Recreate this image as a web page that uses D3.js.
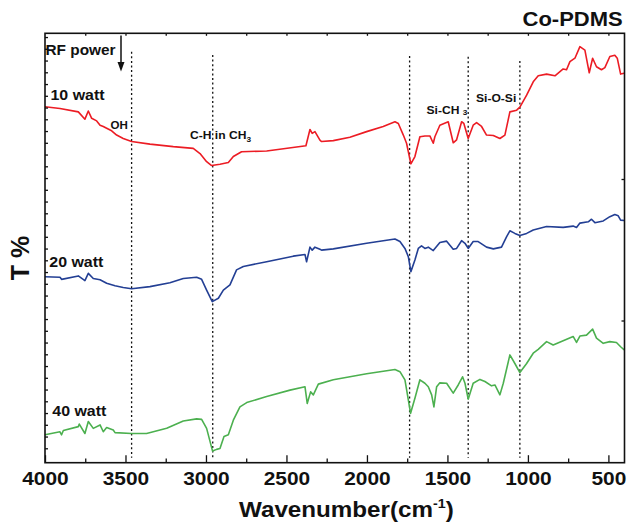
<!DOCTYPE html>
<html>
<head>
<meta charset="utf-8">
<script src="https://cdn.jsdelivr.net/npm/d3@7"></script>
<style>
  body { margin: 0; background: #fff; }
  svg text { font-family: "Liberation Sans", Arial, Helvetica, sans-serif; font-weight: bold; fill: #111; }
</style>
</head>
<body>
<div id="chart"></div>
<script>
// spectra: [wavenumber cm-1, T (offset, a.u.)]
const watt10 = [[4000,82.9],[3907,82.5],[3793,81.7],[3752,80.0],[3731,81.9],[3710,80.2],[3679,79.6],[3658,78.6],[3638,78.3],[3617,77.9],[3586,77.3],[3555,76.3],[3514,75.5],[3462,74.8],[3348,74.2],[3203,73.6],[3079,73.2],[3037,72.0],[2996,70.1],[2965,69.2],[2913,69.5],[2861,69.9],[2830,71.3],[2779,72.4],[2623,72.6],[2379,73.8],[2354,77.6],[2340,76.7],[2323,77.1],[2292,75.1],[2282,74.8],[2209,75.0],[2106,75.8],[2002,77.1],[1899,78.3],[1826,79.4],[1805,79.0],[1774,76.3],[1754,74.4],[1727,69.6],[1702,71.3],[1671,75.9],[1640,76.1],[1609,76.1],[1588,74.4],[1578,75.9],[1547,78.6],[1495,79.4],[1464,74.5],[1443,75.2],[1412,79.4],[1398,79.0],[1371,75.5],[1340,78.6],[1319,79.2],[1288,78.3],[1257,76.3],[1215,76.2],[1174,75.5],[1143,76.3],[1112,81.7],[1070,82.1],[1050,82.8],[1008,85.6],[967,88.7],[936,90.1],[884,90.5],[832,90.1],[781,91.7],[760,91.5],[739,93.4],[708,94.2],[677,96.9],[646,96.1],[619,90.8],[598,94.2],[574,92.2],[543,91.5],[522,92.0],[491,94.6],[460,94.9],[445,94.2],[424,90.5],[402,90.7]];

const watt20 = [[4000,43.3],[3907,43.2],[3897,42.7],[3793,43.5],[3752,42.4],[3731,44.1],[3700,42.9],[3658,42.6],[3617,41.8],[3565,41.2],[3514,40.8],[3462,40.5],[3348,41.0],[3224,41.9],[3141,42.9],[3058,43.2],[3027,42.7],[2996,40.2],[2961,37.5],[2923,38.3],[2892,40.2],[2851,41.4],[2810,44.9],[2768,45.7],[2623,46.8],[2458,48.1],[2385,48.5],[2375,46.8],[2354,50.2],[2340,49.5],[2323,50.2],[2292,49.7],[2282,49.5],[2209,49.8],[2002,51.1],[1826,52.1],[1795,51.5],[1764,49.9],[1743,48.0],[1727,44.5],[1702,47.2],[1681,49.9],[1661,50.5],[1640,49.9],[1619,50.2],[1588,49.4],[1547,51.3],[1505,51.6],[1464,49.7],[1443,49.9],[1412,51.7],[1391,51.1],[1371,49.9],[1340,51.5],[1309,51.5],[1257,50.2],[1215,49.8],[1164,50.2],[1133,52.6],[1112,54.0],[1081,53.4],[1050,52.9],[1008,53.4],[967,54.2],[884,55.0],[781,54.8],[719,55.1],[698,54.8],[677,55.8],[625,56.1],[605,56.7],[584,55.9],[532,56.3],[491,57.3],[460,57.8],[439,57.5],[424,56.5],[402,56.4]];

const watt40 = [[4000,6.5],[3907,7.2],[3897,6.5],[3886,7.5],[3793,8.4],[3787,9.0],[3752,6.8],[3731,9.6],[3700,8.0],[3658,8.8],[3638,7.2],[3617,8.2],[3576,7.6],[3565,7.0],[3462,6.8],[3369,6.8],[3244,8.0],[3141,9.7],[3058,10.2],[3027,10.1],[2996,8.0],[2959,2.7],[2934,3.1],[2913,3.3],[2888,6.1],[2861,6.5],[2830,9.9],[2789,13.0],[2747,14.0],[2623,15.4],[2478,16.9],[2385,17.7],[2371,13.8],[2350,16.5],[2333,15.8],[2302,18.3],[2209,19.3],[2002,20.7],[1826,21.7],[1795,21.2],[1764,19.3],[1750,16.2],[1729,11.5],[1702,15.0],[1671,19.3],[1640,18.5],[1619,17.7],[1598,15.8],[1584,13.0],[1567,17.7],[1547,18.6],[1505,18.5],[1464,16.2],[1433,18.1],[1406,20.0],[1391,18.5],[1371,14.8],[1340,18.5],[1298,19.4],[1267,18.9],[1226,17.9],[1205,18.1],[1174,15.8],[1153,18.5],[1112,25.1],[1081,23.1],[1050,21.0],[1008,23.1],[967,25.5],[936,26.4],[884,28.2],[843,27.4],[781,28.4],[719,29.4],[698,28.0],[677,29.5],[636,29.7],[598,31.1],[574,29.0],[532,27.8],[491,28.2],[450,28.0],[424,27.0],[402,26.3]];

const seriesNames = ["10 watt", "20 watt", "40 watt"];
const seriesColors = ["#ec1c24", "#233f94", "#4cb04f"];
const bandPositions = [3462, 2958, 1735, 1371, 1050];
const xTicks = [4000, 3500, 3000, 2500, 2000, 1500, 1000, 500];
const xMinorTicks = [3750, 3250, 2750, 2250, 1750, 1250, 750];

const CONFIG = {
    width: 627,
    height: 530,
    margin: { top: 33.3, right: 2.5, bottom: 67.3, left: 45 },
    xDomain: [4000, 400],
    yDomain: [0, 100],
    bandTops: [51.7, 55, 56, 56.7, 61],
    stretch: 1.1
};

const width = CONFIG.width, height = CONFIG.height;
const m = CONFIG.margin;
const x0 = m.left, x1 = width - m.right, y0 = m.top, y1 = height - m.bottom;

const svg = d3.select("#chart").append("svg")
    .attr("width", width)
    .attr("height", height);

const x = d3.scaleLinear().domain(CONFIG.xDomain).range([x0, x1]);
const y = d3.scaleLinear().domain(CONFIG.yDomain).range([y1, y0]);

// band marker lines
svg.append("g").selectAll("line")
    .data(bandPositions)
    .join("line")
    .attr("x1", d => x(d)).attr("x2", d => x(d))
    .attr("y1", (d, i) => CONFIG.bandTops[i])
    .attr("y2", y1 - 5)
    .attr("stroke", "#111")
    .attr("stroke-width", 1.3)
    .attr("stroke-dasharray", "2,2.6");

// spectra
const line = d3.line().x(d => x(d[0])).y(d => y(d[1]));
svg.append("g").selectAll("path")
    .data([watt10, watt20, watt40])
    .join("path")
    .attr("d", line)
    .attr("fill", "none")
    .attr("stroke", (d, i) => seriesColors[i])
    .attr("stroke-width", 1.6)
    .attr("stroke-linejoin", "round");

// axes (ticks point inward)
function styleAxis(g) {
    g.select(".domain").remove();
    g.selectAll(".tick line").attr("stroke", "#111").attr("stroke-width", 1.3);
}

svg.append("g")
    .attr("transform", `translate(0,${y1})`)
    .call(d3.axisBottom(x).tickValues(xTicks).tickFormat(d3.format("d"))
        .tickSizeInner(-7.5).tickSizeOuter(0))
    .call(styleAxis)
    .call(g => g.selectAll(".tick text")
        .attr("font-size", 19)
        .attr("fill", "#111")
        .attr("dy", 0)
        .attr("y", 22.5)
        .attr("transform", `scale(${CONFIG.stretch},1)`));

svg.append("g")
    .attr("transform", `translate(0,${y1})`)
    .call(d3.axisBottom(x).tickValues(xMinorTicks).tickSizeInner(-4.3).tickSizeOuter(0).tickFormat(""))
    .call(styleAxis);

svg.append("g")
    .attr("transform", `translate(0,${y0})`)
    .call(d3.axisTop(x).tickValues(d3.range(3750, 450, -250)).tickSizeInner(-2.5).tickSizeOuter(0).tickFormat(""))
    .call(styleAxis);

const leftTicks = d3.range(y.invert(y1 - 14.4), 100, 11.75 / (y(0) - y(1)));
svg.append("g")
    .attr("transform", `translate(${x0},0)`)
    .call(d3.axisLeft(y).tickValues(leftTicks).tickSizeInner(-3).tickSizeOuter(0).tickFormat(""))
    .call(styleAxis);

svg.append("g")
    .attr("transform", `translate(${x1},0)`)
    .call(d3.axisRight(y).tickValues([y.invert(320.5), y.invert(179)]).tickSizeInner(-3).tickSizeOuter(0).tickFormat(""))
    .call(styleAxis);

// frame
svg.append("rect")
    .attr("x", x0).attr("y", y0)
    .attr("width", x1 - x0).attr("height", y1 - y0)
    .attr("fill", "none")
    .attr("stroke", "#111")
    .attr("stroke-width", 1.6);

// text helper: slightly wide glyphs like the original
function label(tx, ty, size) {
    return svg.append("text")
        .attr("transform", `translate(${tx},${ty}) scale(${CONFIG.stretch},1)`)
        .attr("font-size", size);
}

label(522.5, 26, 20).text("Co-PDMS");
label(45.5, 54.5, 14).text("RF power");

// arrow
svg.append("line")
    .attr("x1", 121).attr("x2", 121).attr("y1", 35.5).attr("y2", 63)
    .attr("stroke", "#111").attr("stroke-width", 1.5);
svg.append("path")
    .attr("d", "M117.5,62 L124.5,62 L121,71.5 Z")
    .attr("fill", "#111");

const seriesLabelPos = [[50.5, 100], [49.3, 267.3], [52.3, 415.7]];
seriesNames.forEach((name, i) => {
    label(seriesLabelPos[i][0], seriesLabelPos[i][1], 14.5).text(name);
});

label(110.5, 129, 10.5).text("OH");

const ch = label(190, 139, 11);
ch.append("tspan").text("C-H in CH");
ch.append("tspan").attr("font-size", 7.5).attr("dy", 2.5).text("3");

const sich = label(426.5, 113.5, 11);
sich.append("tspan").text("Si-CH ");
sich.append("tspan").attr("font-size", 7.5).attr("dy", 1.5).text("3");

label(476, 102, 11).text("Si-O-Si");

// axis titles
svg.append("text")
    .attr("transform", "translate(29,258) rotate(-90)")
    .attr("text-anchor", "middle")
    .attr("font-size", 25)
    .text("T %");

const xt = label(239, 517, 22);
xt.append("tspan").text("Wavenumber(cm");
xt.append("tspan").attr("font-size", 13).attr("dy", -9).text("-1");
xt.append("tspan").attr("dy", 9).text(")");
</script>
</body>
</html>
